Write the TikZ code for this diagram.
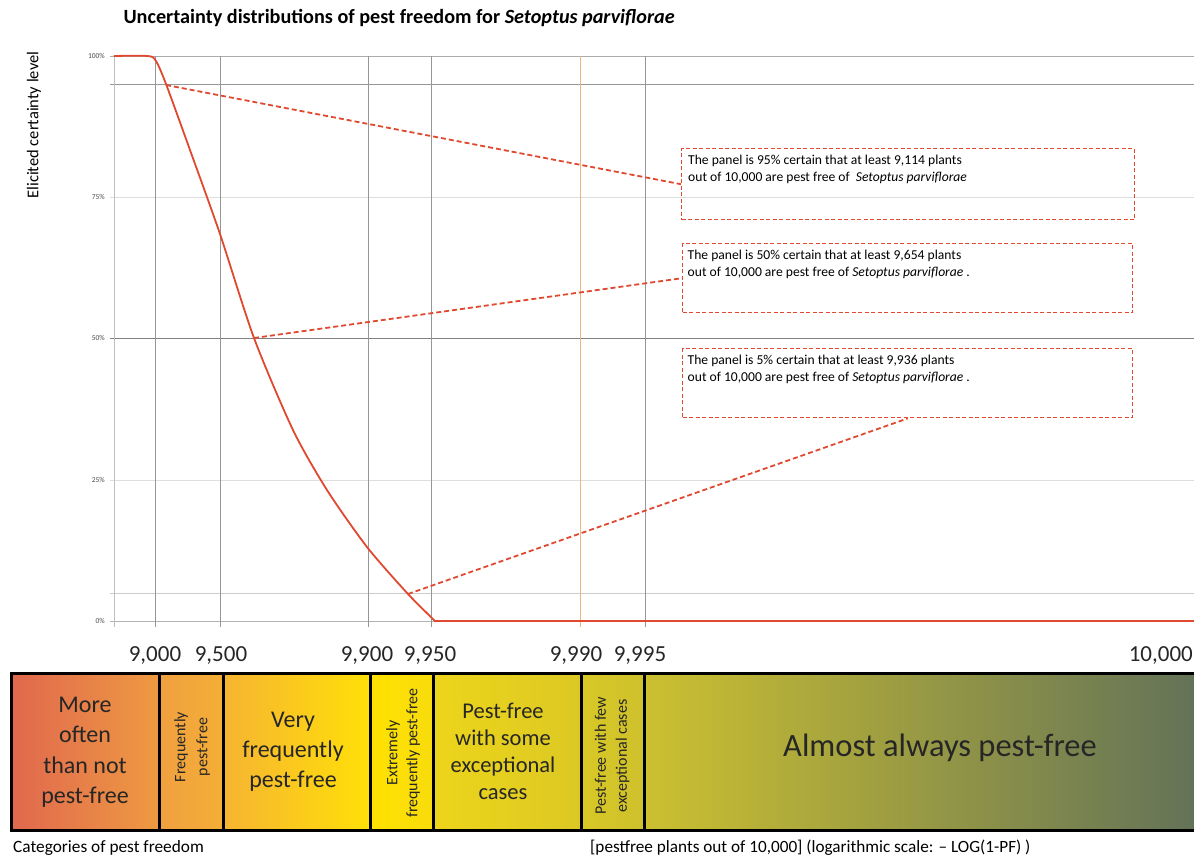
\documentclass[tikz,border=0pt]{standalone}
\usepackage{fontspec}
\setmainfont{Carlito}
\usetikzlibrary{positioning}
\definecolor{pfred}{RGB}{225,72,48}
\definecolor{gridgray}{RGB}{150,150,150}
\definecolor{gridlight}{RGB}{222,222,222}
\definecolor{gridorange}{RGB}{240,180,125}
\newcommand{\fsz}[2]{\fontsize{#1}{#2}\selectfont}

\begin{document}
\begin{tikzpicture}[x=1pt,y=-1pt,
	gridln/.style={draw=gridgray,line width=0.9pt},
	gridlt/.style={draw=gridlight,line width=0.9pt},
	curveln/.style={draw=pfred,line width=1.8pt,line join=round},
	leader/.style={draw=pfred,dash pattern=on 5pt off 3pt,line width=1.8pt},
	notebox/.style={draw=pfred,dash pattern=on 4pt off 2.5pt,line width=1.4pt,anchor=north west,inner sep=5pt,minimum width=450pt,minimum height=69pt,font=\fsz{13.6}{17}},
	ticklbl/.style={anchor=east,text=black!70,font=\fsz{7.5}{9},inner sep=1pt},
	catlbl/.style={align=center,text=black!85,inner sep=0pt},
	scalelbl/.style={font=\fsz{23}{27},text=black!85,inner sep=0pt}]
	\def\barline{3pt}
	\useasboundingbox (0,0) rectangle (1194,863);
	\clip (0,0) rectangle (1194,863);

	% title and axis label
	\node[anchor=west,font=\bfseries\fsz{20.2}{24}] (title) at (120,18) {Uncertainty distributions of pest freedom for \textit{Setoptus parviflorae}};
	\node[rotate=90,font=\fsz{16.5}{19}] (ylbl) at (34,125) {Elicited certainty level};

	% horizontal grid
	\draw[gridln,draw=gridgray!80] (110,56) -- (1194,56);
	\draw[gridln] (110,84) -- (1194,84);
	\draw[gridlt] (110,197) -- (1194,197);
	\draw[gridln,draw=black!50] (110,338) -- (1194,338);
	\draw[gridlt] (110,480) -- (1194,480);
	\draw[gridlt,draw=black!20] (110,593) -- (1194,593);
	\draw[gridln,draw=black!30] (110,621) -- (1194,621);
	% vertical grid
	\draw[gridlt,draw=black!25] (114,56) -- (114,627);
	\draw[gridln] (155,56) -- (155,627);
	\draw[gridln] (220,56) -- (220,627);
	\draw[gridln] (368,56) -- (368,627);
	\draw[gridln] (431,56) -- (431,627);
	\draw[gridln,draw=gridorange] (580,56) -- (580,627);
	\draw[gridln] (645,56) -- (645,627);

	% tick labels
	\node[ticklbl] (t100) at (106,56) {100\%};
	\node[ticklbl] (t75) at (106,197) {75\%};
	\node[ticklbl] (t50) at (106,338) {50\%};
	\node[ticklbl] (t25) at (106,480) {25\%};
	\node[ticklbl] (t0) at (106,621) {0\%};

	% elicited distribution
	\draw[curveln] plot[smooth,tension=0.45] coordinates {(114,56) (148,56) (156,61) (166,84) (190,150) (220,234) (254,338) (293,430) (327,490) (367,547) (408,594) (435,621)} -- (1194,621);
	\coordinate (c95) at (166,85);
	\coordinate (c50) at (254,338);
	\coordinate (c5) at (408,594);

	% notes
	\node[notebox,minimum width=453pt,minimum height=71pt] (box95) at (681,148) {\parbox[t][58pt][t]{440pt}{The panel is 95\% certain that at least 9,114 plants\\out of 10,000 are pest free of \ \textit{Setoptus parviflorae}}};
	\node[notebox] (box50) at (682,243) {\parbox[t][56pt][t]{440pt}{The panel is 50\% certain that at least 9,654 plants\\out of 10,000 are pest free of \textit{Setoptus parviflorae} .}};
	\node[notebox] (box5) at (682,348) {\parbox[t][56pt][t]{440pt}{The panel is 5\% certain that at least 9,936 plants\\out of 10,000 are pest free of \textit{Setoptus parviflorae} .}};
	\draw[leader] (c95) -- (box95.west);
	\draw[leader] (c50) -- (box50.west);
	\draw[leader] (c5) -- (box5.south);

	% scale values
	\node[scalelbl] (s9000) at (155,655) {9,000};
	\node[scalelbl] (s9500) at (221,655) {9,500};
	\node[scalelbl] (s9900) at (367,655) {9,900};
	\node[scalelbl] (s9950) at (430,655) {9,950};
	\node[scalelbl] (s9990) at (576,655) {9,990};
	\node[scalelbl] (s9995) at (640,655) {9,995};
	\node[scalelbl,anchor=east] (s10000) at (1193,655) {10,000};

	% categories bar
	\shade[left color={rgb,255:red,224;green,104;blue,78},right color={rgb,255:red,238;green,154;blue,66}] (11,673) rectangle (159,830);
	\shade[left color={rgb,255:red,240;green,160;blue,64},right color={rgb,255:red,244;green,174;blue,54}] (159,673) rectangle (223,830);
	\shade[left color={rgb,255:red,246;green,180;blue,50},right color={rgb,255:red,255;green,224;blue,8}] (223,673) rectangle (370,830);
	\shade[left color={rgb,255:red,255;green,226;blue,0},right color={rgb,255:red,248;green,220;blue,12}] (370,673) rectangle (433,830);
	\shade[left color={rgb,255:red,237;green,213;blue,26},right color={rgb,255:red,220;green,200;blue,36}] (433,673) rectangle (581,830);
	\shade[left color={rgb,255:red,216;green,200;blue,38},right color={rgb,255:red,206;green,192;blue,44}] (581,673) rectangle (644,830);
	\shade[left color={rgb,255:red,204;green,192;blue,48},middle color={rgb,255:red,160;green,158;blue,78},right color={rgb,255:red,98;green,114;blue,88}] (644,673) rectangle (1200,830);
	\draw[line width=\barline] (11,673) rectangle (1200,830);
	\draw[line width=\barline] (159,673) -- (159,830);
	\draw[line width=\barline] (223,673) -- (223,830);
	\draw[line width=\barline] (370,673) -- (370,830);
	\draw[line width=\barline] (433,673) -- (433,830);
	\draw[line width=\barline] (581,673) -- (581,830);
	\draw[line width=\barline] (644,673) -- (644,830);

	\node[catlbl,font=\fsz{24}{30.5}] (catmore) at (85,752) {More\\often\\than not\\pest-free};
	\node[catlbl,rotate=90,font=\fsz{16}{22}] (catfreq) at (192,747) {Frequently\\pest-free};
	\node[catlbl,font=\fsz{24}{30}] (catvery) at (293,752) {Very\\frequently\\pest-free};
	\node[catlbl,rotate=90,font=\fsz{16}{20}] (catext) at (403,753) {Extremely\\frequently pest-free};
	\node[catlbl,font=\fsz{22.5}{27}] (catsome) at (503,751) {Pest-free\\with some\\exceptional\\cases};
	\node[catlbl,rotate=90,font=\fsz{16}{21}] (catfew) at (612,756) {Pest-free with few\\exceptional cases};
	\node[catlbl,font=\fsz{32.5}{38}] (catalways) at (940,748) {Almost always pest-free};

	% bottom captions
	\node[anchor=west,font=\fsz{17.3}{20},inner sep=0pt] (catcap) at (13,848) {Categories of pest freedom};
	\node[anchor=west,font=\fsz{17.2}{20},inner sep=0pt] (scalecap) at (590,848) {[pestfree plants out of 10,000] (logarithmic scale: \textendash{} LOG(1-PF) )};
\end{tikzpicture}
\end{document}
